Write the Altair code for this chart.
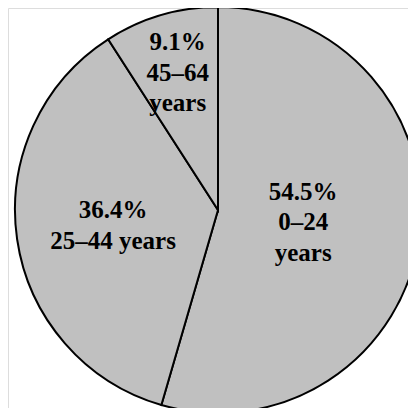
import altair as alt
import pandas as pd

categories = ["0\u201324 years", "25\u201344 years", "45\u201364 years"]
shares = [54.5, 36.4, 9.1]
labels = ["54.5%\n0\u201324\nyears", "36.4%\n25\u201344 years", "9.1%\n45\u201364\nyears"]

# label distance from the pie centre (layout only)
label_radius = [86, 106, 143]

df = pd.DataFrame({
    "category": categories,
    "share": shares,
    "label": labels,
    "order": list(range(len(categories))),
    "lr": label_radius,
})

cx, cy = 210, 202
R = 203
LH = 30.5
total = sum(shares)

pie = alt.Chart(df).mark_arc(
    outerRadius=R, fill="#c0c0c0", stroke="black", strokeWidth=2
).encode(
    theta=alt.Theta("share:Q", stack=True, scale=alt.Scale(domain=[0, total])),
    order=alt.Order("order:Q"),
    x=alt.value(cx),
    y=alt.value(cy),
)

text = alt.Chart(df).transform_window(
    cum="sum(share)", sort=[alt.SortField("order")], frame=[None, 0]
).transform_calculate(
    ang=f"(datum.cum - datum.share / 2) / {total} * 2 * PI",
    nl="length(split(datum.label, '\\n'))",
).transform_calculate(
    px=f"{cx} + datum.lr * sin(datum.ang)",
    py=f"{cy} - datum.lr * cos(datum.ang) - (datum.nl - 1) * {LH} / 2",
).mark_text(
    font="Liberation Serif", fontWeight="bold", fontSize=25,
    lineBreak="\n", lineHeight=LH, align="center", baseline="middle",
    color="black",
).encode(
    x=alt.X("px:Q", scale=None),
    y=alt.Y("py:Q", scale=None),
    text="label:N",
)

chart = alt.layer(pie, text).properties(
    width=400, height=400, padding=0, autosize=alt.AutoSizeParams(type="none")
).configure_view(stroke=None).configure(background="white")

chart.save("out.html", embed_options={"renderer": "svg", "actions": False})
